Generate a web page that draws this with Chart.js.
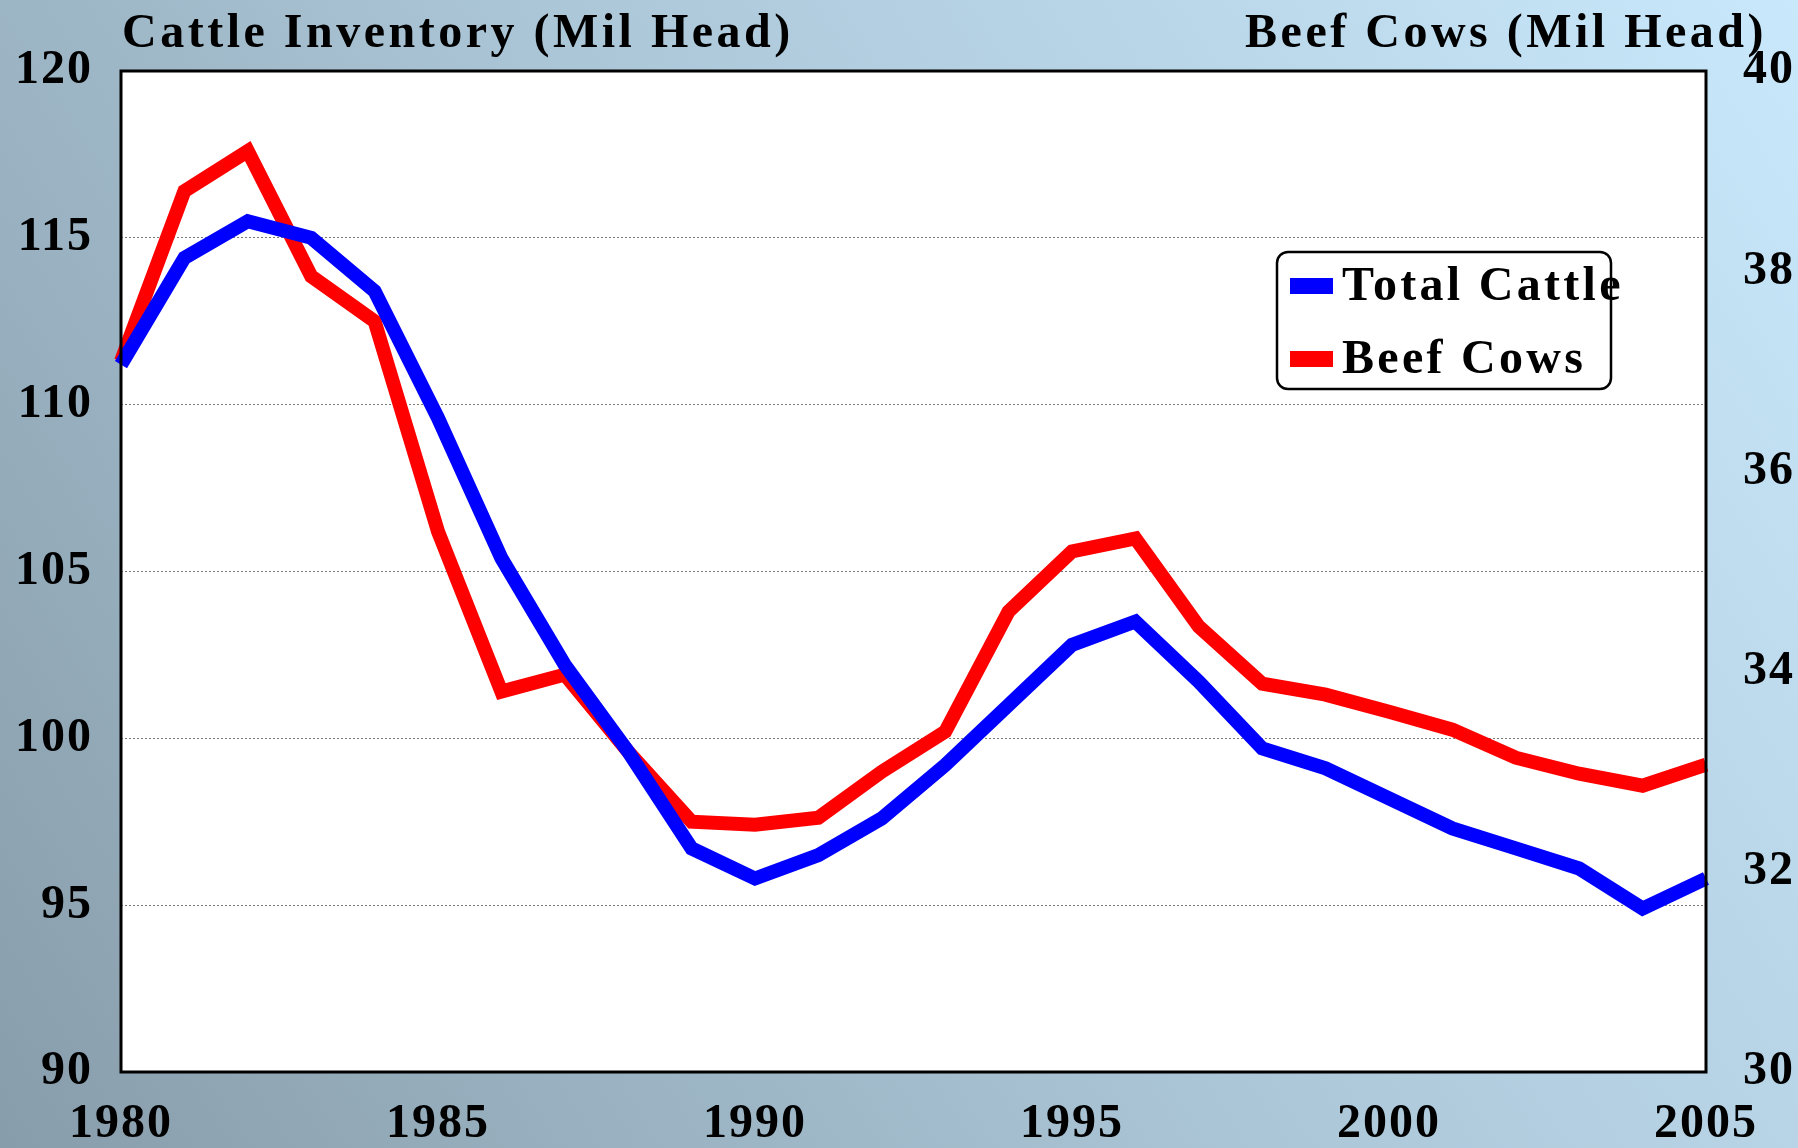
<!DOCTYPE html>
<html>
<head>
<meta charset="utf-8">
<script src="https://cdn.jsdelivr.net/npm/chart.js@4.4.0/dist/chart.umd.min.js"></script>
<style>
html, body { margin: 0; padding: 0; background: #a9c3d3; }
#wrap { width: 1798px; height: 1148px; }
</style>
</head>
<body>
<div id="wrap"><canvas id="cattleChart" width="1798" height="1148"></canvas></div>
<script>
// values (Jan 1 inventory)
const years = [1980, 1981, 1982, 1983, 1984, 1985, 1986, 1987, 1988, 1989, 1990, 1991, 1992,
               1993, 1994, 1995, 1996, 1997, 1998, 1999, 2000, 2001, 2002, 2003, 2004, 2005];
const totalCattle = [111.2, 114.4, 115.5, 115.0, 113.4, 109.6, 105.4, 102.2, 99.6, 96.7, 95.8, 96.5, 97.6,
                     99.2, 101.0, 102.8, 103.5, 101.7, 99.7, 99.1, 98.2, 97.3, 96.7, 96.1, 94.9, 95.8];
const beefCows = [37.1, 38.8, 39.2, 37.95, 37.5, 35.4, 33.8, 33.97, 33.2, 32.5, 32.47, 32.54, 33.0,
                  33.4, 34.6, 35.2, 35.33, 34.45, 33.88, 33.77, 33.6, 33.42, 33.14, 32.98, 32.86, 33.07];
const xTicks = [1980, 1985, 1990, 1995, 2000, 2005];
const leftTicks = [90, 95, 100, 105, 110, 115, 120];
const rightTicks = [30, 32, 34, 36, 38, 40];

const FONT = '"Liberation Serif", "Times New Roman", serif';

const bgPlugin = {
    id: 'bg',
    beforeDraw(chart) {
        const ctx = chart.ctx, a = chart.chartArea;
        ctx.save();
        const g = ctx.createLinearGradient(0, chart.height, chart.width, 0);
        g.addColorStop(0, '#889dab');
        g.addColorStop(0.5, '#abc6d7');
        g.addColorStop(1, '#c9e8fb');
        ctx.fillStyle = g;
        ctx.fillRect(0, 0, chart.width, chart.height);
        ctx.fillStyle = '#ffffff';
        ctx.fillRect(a.left, a.top, a.right - a.left, a.bottom - a.top);
        ctx.restore();
        // wide-set letters like the original
        ctx.letterSpacing = '2px';
    },
    afterDatasetsDraw(chart) {
        const ctx = chart.ctx, a = chart.chartArea;
        ctx.save();
        ctx.strokeStyle = '#000';
        ctx.lineWidth = 3;
        ctx.strokeRect(a.left, a.top, a.right - a.left, a.bottom - a.top);

        // legend box
        const bx = 1277, by = 252, bw = 334, bh = 137, r = 11;
        ctx.lineWidth = 2.5;
        ctx.beginPath();
        ctx.roundRect(bx, by, bw, bh, r);
        ctx.fillStyle = '#fff';
        ctx.fill();
        ctx.stroke();
        ctx.font = 'bold 48px ' + FONT;
        ctx.letterSpacing = '3.3px';
        ctx.textBaseline = 'middle';
        ctx.textAlign = 'left';
        const rows = [286, 359];
        chart.data.datasets.forEach((ds, i) => {
            ctx.fillStyle = ds.borderColor;
            ctx.fillRect(1290, rows[i] - 8, 43, 16);
            ctx.fillStyle = '#000';
            ctx.fillText(ds.label, 1342, rows[i] + 2);
        });

        // axis titles
        ctx.textBaseline = 'alphabetic';
        ctx.letterSpacing = '3.5px';
        ctx.fillText('Cattle Inventory (Mil Head)', 122, 47);
        ctx.textAlign = 'right';
        ctx.fillText('Beef Cows (Mil Head)', 1767, 47);
        ctx.restore();
    }
};

const tickFont = { family: FONT, size: 48, weight: 'bold' };

new Chart(document.getElementById('cattleChart'), {
    type: 'line',
    data: {
        datasets: [{
            label: 'Total Cattle',
            data: years.map((y, i) => ({ x: y, y: totalCattle[i] })),
            borderColor: '#0000ff',
            yAxisID: 'yL'
        }, {
            label: 'Beef Cows',
            data: years.map((y, i) => ({ x: y, y: beefCows[i] })),
            borderColor: '#ff0000',
            yAxisID: 'yR'
        }]
    },
    options: {
        responsive: false,
        animation: false,
        layout: { padding: { top: 71, left: 0, right: 0, bottom: 0 } },
        elements: {
            line: { borderWidth: 14, tension: 0, borderJoinStyle: 'miter', borderCapStyle: 'butt', fill: false },
            point: { radius: 0, hoverRadius: 0 }
        },
        datasets: { line: { clip: false } },
        plugins: { legend: { display: false }, tooltip: { enabled: false } },
        scales: {
            x: {
                type: 'linear',
                min: 1980, max: 2005,
                afterBuildTicks: s => { s.ticks = xTicks.map(v => ({ value: v })); },
                afterFit: s => { s.height = 76; },
                grid: { display: false, drawTicks: false },
                border: { display: false },
                ticks: { font: tickFont, color: '#000', padding: 24, maxRotation: 0, autoSkip: false,
                         callback: v => String(v) }
            },
            yL: {
                position: 'left',
                min: 90, max: 120,
                afterBuildTicks: s => { s.ticks = leftTicks.map(v => ({ value: v })); },
                afterFit: s => { s.width = 121; },
                grid: {
                    drawTicks: false,
                    lineWidth: 1,
                    color: c => (c.tick.value === 90 || c.tick.value === 120) ? 'rgba(0,0,0,0)' : '#7a7a7a'
                },
                border: { display: false, dash: [2, 2] },
                ticks: { font: tickFont, color: '#000', padding: 28 }
            },
            yR: {
                position: 'right',
                min: 30, max: 40,
                afterBuildTicks: s => { s.ticks = rightTicks.map(v => ({ value: v })); },
                afterFit: s => { s.width = 92; },
                grid: { display: false, drawTicks: false },
                border: { display: false },
                ticks: { font: tickFont, color: '#000', padding: 37 }
            }
        }
    },
    plugins: [bgPlugin]
});
</script>
</body>
</html>
